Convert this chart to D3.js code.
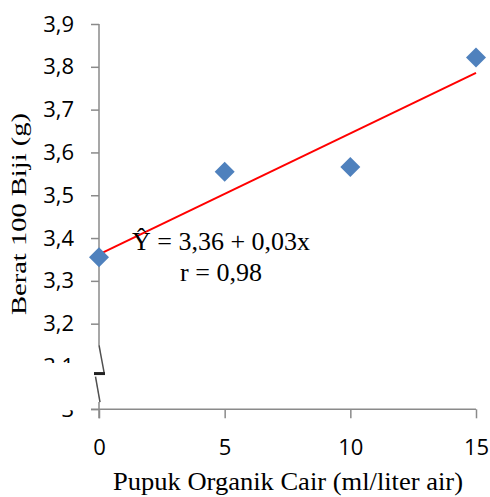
<!DOCTYPE html>
<html>
<head>
<meta charset="utf-8">
<script src="https://cdn.jsdelivr.net/npm/d3@7"></script>
<style>
  html, body { margin: 0; padding: 0; background: #fff; }
  svg { display: block; }
</style>
</head>
<body>
<svg id="chart" width="490" height="497"></svg>
<script>
// ---- data ----
const doseValues = [0, 5, 10, 15];
const weightValues = [3.355, 3.555, 3.566, 3.822];
const xTickValues = [0, 5, 10, 15];
const yTickValues = [3.0, 3.1, 3.2, 3.3, 3.4, 3.5, 3.6, 3.7, 3.8, 3.9];
const trendX = [0, 15];
const trendY = [3.362, 3.786];
const equationLines = ["Ŷ = 3,36 + 0,03x", "r = 0,98"];
const xTitle = "Pupuk Organik Cair (ml/liter air)";
const yTitle = "Berat 100 Biji (g)";
const breakTop = 3.150, breakBottom = 3.017;

// ---- layout ----
const svg = d3.select("#chart");
const x = d3.scaleLinear().domain([0, 15]).range([99, 476]);
const y = d3.scaleLinear().domain([3.0, 3.9]).range([409.3, 24]);
const axisColor = "#8a8a8a";
const tickFont = "'Open Sans', sans-serif";
const serif = "'Liberation Serif', 'Times New Roman', serif";

const fmt = d => d === 3 ? "3" : d.toFixed(1).replace(".", ",");

// y axis ticks + labels
const yAxis = svg.append("g").attr("transform", `translate(${x(0)},0)`)
  .call(d3.axisLeft(y).tickValues(yTickValues).tickFormat(fmt).tickSize(8).tickPadding(17));
yAxis.select(".domain").remove();
yAxis.selectAll("line").attr("stroke", axisColor).attr("stroke-width", 1.5);
yAxis.selectAll("text").attr("font-family", tickFont).attr("font-size", 22).attr("fill", "#000");

// x axis ticks + labels
const xAxis = svg.append("g").attr("transform", `translate(0,${y(3.0)})`)
  .call(d3.axisBottom(x).tickValues(xTickValues).tickFormat(d3.format("d")).tickSize(9).tickPadding(21));
xAxis.select(".domain").remove();
xAxis.selectAll("line").attr("stroke", axisColor).attr("stroke-width", 1.5);
xAxis.selectAll("text").attr("font-family", tickFont).attr("font-size", 22).attr("fill", "#000");

// white break mask over lower labels
svg.append("rect")
  .attr("x", 30).attr("y", 363)
  .attr("width", x(0) - 30 + 1).attr("height", y(3.0) - 363 + 1)
  .attr("fill", "#fff");

// axis lines
svg.append("line")
  .attr("x1", x(0) - 8).attr("x2", x(15))
  .attr("y1", y(3.0)).attr("y2", y(3.0))
  .attr("stroke", axisColor).attr("stroke-width", 1.5);
svg.append("line")
  .attr("x1", x(0)).attr("x2", x(0))
  .attr("y1", y(3.9)).attr("y2", y(breakTop))
  .attr("stroke", axisColor).attr("stroke-width", 1.5);
svg.append("line")
  .attr("x1", x(0)).attr("x2", x(0))
  .attr("y1", y(breakBottom)).attr("y2", y(3.0) + 9)
  .attr("stroke", axisColor).attr("stroke-width", 1.5);

// break marks
const bx = x(0);
const yMid = (y(breakTop) + y(breakBottom)) / 2;
svg.append("path")
  .attr("d", `M${bx},${y(breakTop)} L${bx + 5},${yMid - 1.5}`)
  .attr("stroke", "#505050").attr("stroke-width", 1.5).attr("fill", "none");
svg.append("path")
  .attr("d", `M${bx - 5},${yMid} L${bx + 6},${yMid}`)
  .attr("stroke", "#222").attr("stroke-width", 3).attr("fill", "none");
svg.append("path")
  .attr("d", `M${bx - 3.5},${yMid + 3} L${bx + 1},${y(breakBottom)}`)
  .attr("stroke", "#505050").attr("stroke-width", 1.5).attr("fill", "none");

// trend line
svg.append("path")
  .datum(trendX.map((d, i) => [d, trendY[i]]))
  .attr("d", d3.line().x(d => x(d[0])).y(d => y(d[1])))
  .attr("stroke", "#ff0000").attr("stroke-width", 2).attr("fill", "none");

// points
svg.append("g").selectAll("path")
  .data(doseValues.map((d, i) => [d, weightValues[i]]))
  .join("path")
  .attr("d", d3.symbol().type(d3.symbolSquare).size(200))
  .attr("transform", d => `translate(${x(d[0])},${y(d[1])}) rotate(45)`)
  .attr("fill", "#4f81bd");

// equation text
svg.append("g").selectAll("text")
  .data(equationLines)
  .join("text")
  .attr("x", 221)
  .attr("y", (d, i) => 250 + i * 30.5)
  .attr("text-anchor", "middle")
  .attr("font-family", serif).attr("font-size", 26).attr("fill", "#000")
  .text(d => d);

// axis titles
svg.append("text")
  .attr("x", 288).attr("y", 490)
  .attr("text-anchor", "middle")
  .attr("font-family", serif).attr("font-size", 25).attr("fill", "#000")
  .attr("textLength", 350).attr("lengthAdjust", "spacingAndGlyphs")
  .text(xTitle);

svg.append("text")
  .attr("transform", "translate(26,214) rotate(-90)")
  .attr("text-anchor", "middle")
  .attr("font-family", serif).attr("font-size", 22).attr("fill", "#000")
  .attr("textLength", 202).attr("lengthAdjust", "spacingAndGlyphs")
  .text(yTitle);
</script>
</body>
</html>
